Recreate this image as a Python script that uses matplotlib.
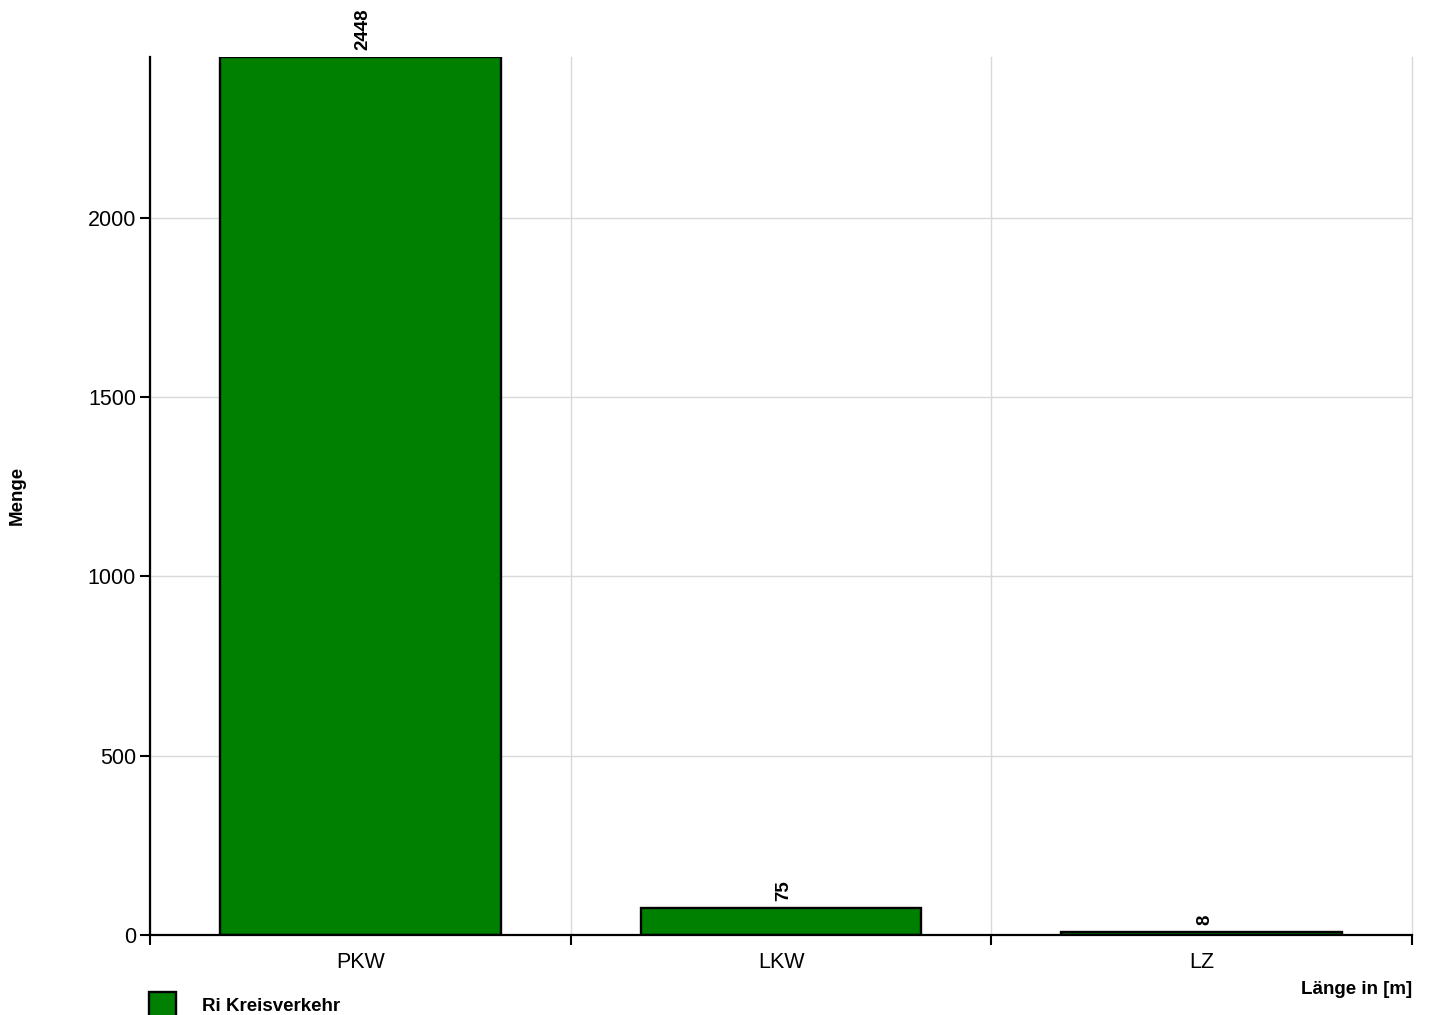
import numpy as np
import matplotlib.pyplot as plt

plt.rcParams['font.family'] = ['Liberation Sans', 'DejaVu Sans']

categories = ["PKW", "LKW", "LZ"]
values = [2448, 75, 8]
series_name = "Ri Kreisverkehr"
y_ticks = [0, 500, 1000, 1500, 2000]

W, H = 1429, 1015
fig = plt.figure(figsize=(W / 100, H / 100), dpi=100)
ax = fig.add_axes([150 / W, 1 - 935 / H, (1412 - 150) / W, (935 - 57) / H])

x = np.arange(len(categories))
bars = ax.bar(x, values, width=0.667, color="#008000", edgecolor="black",
              linewidth=1.7, label=series_name, zorder=3)

for xi, v in zip(x, values):
    ax.annotate(str(v), (xi, v), xytext=(2, 5), textcoords="offset points",
                rotation=90, ha="center", va="bottom", fontsize=13.5,
                fontweight="bold")

ax.set_xlim(-0.5, len(categories) - 0.5)
ax.set_ylim(0, max(values))

# boundaries get the ticks and grid, the names sit in between
ax.set_xticks(np.arange(-0.5, len(categories), 1.0))
ax.set_xticklabels([])
ax.set_xticks(x, minor=True)
ax.set_xticklabels(categories, minor=True, fontsize=15.5)
ax.tick_params(axis="x", which="major", direction="out", length=7, width=1.5)
ax.tick_params(axis="x", which="minor", length=0, pad=12.5)

ax.set_yticks(y_ticks)
ax.set_yticklabels([str(t) for t in y_ticks], fontsize=15.5)
ax.tick_params(axis="y", direction="out", length=7, width=1.5, pad=3)

ax.grid(True, which="major", color="#d9d9d9", linewidth=1, zorder=0)
ax.set_axisbelow(True)
for gl in ax.get_xgridlines():
    gl.set_clip_on(False)

for s in ["top", "right"]:
    ax.spines[s].set_visible(False)
for s in ["left", "bottom"]:
    ax.spines[s].set_linewidth(1.6)
    ax.spines[s].set_zorder(4)

fig.text(17 / W, 1 - 495 / H, "Menge", rotation=90, ha="center", va="center",
         fontsize=13.5, fontweight="bold")
fig.text(1412 / W, 1 - 989 / H, "Länge in [m]", ha="right", va="center",
         fontsize=13.5, fontweight="bold")

leg = fig.legend(loc="upper left", bbox_to_anchor=(149 / W, 1 - 992 / H),
                 frameon=False, borderaxespad=0, borderpad=0,
                 handlelength=1.45, handleheight=1.7, handletextpad=1.4,
                 prop={"size": 13.5, "weight": "bold"})

fig.savefig("out.png", dpi=100)
